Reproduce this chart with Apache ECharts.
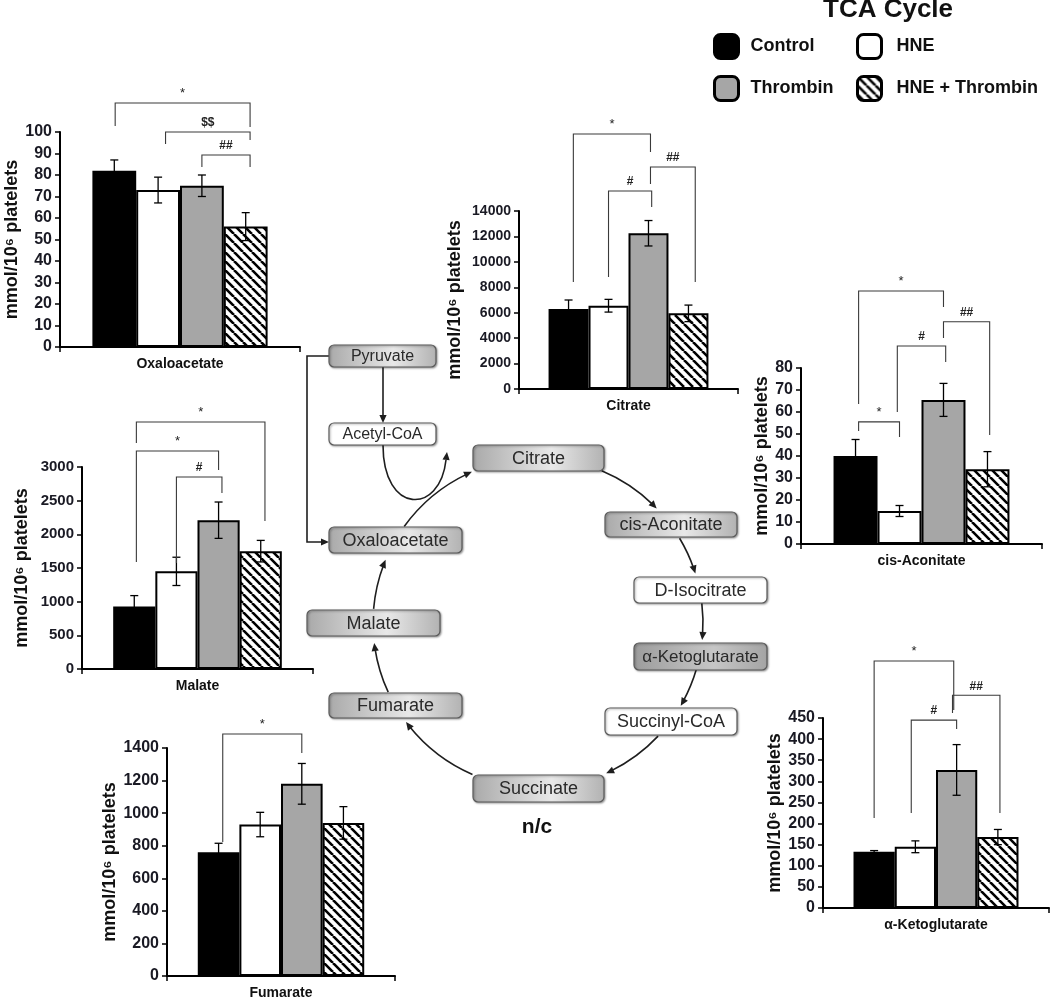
<!DOCTYPE html>
<html><head><meta charset="utf-8">
<script src="https://cdn.jsdelivr.net/npm/echarts@6/dist/echarts.min.js"></script>
<style>html,body{margin:0;padding:0;background:#fff}#c{width:1050px;height:1000px}</style>
</head><body><div id="c"></div><script>
// ---------------- DATA ----------------
const groups = ['Control', 'HNE', 'Thrombin', 'HNE + Thrombin'];
const yAxisTitle = 'mmol/10\u2076 platelets';

const oxaMean = [82, 73, 75, 56];
const oxaErr  = [5, 6, 5, 6.5];
const oxaAxis = [100, 10];
// [label, leftBar, rightBar, top, leftLegEnd, rightLegEnd]
const oxaSig = [['*', 0.02, 3.1, 113.5, 102.8, 102.3], ['$$', 1.17, 3.1, 100, 94.4, 96.3], ['##', 2, 3.1, 89.3, 83.7, 83.7]];

const citMean = [6300, 6550, 12250, 5950];
const citErr  = [700, 500, 1000, 650];
const citAxis = [14000, 2000];
const citSig = [['*', 0.12, 2.05, 20056, 8415, 18640], ['#', 1, 2.08, 15573, 8809, 14314], ['##', 2.05, 3.17, 17460, 16124, 8415]];

const cisMean = [40, 15, 65.5, 34];
const cisErr  = [7.5, 2.5, 7.5, 8];
const cisAxis = [80, 10];
const cisSig = [['*', 0.07, 2, 115, 63.6, 107.7], ['#', 0.95, 2.05, 90, 60, 82.7], ['##', 2, 3.05, 101, 93.6, 49.5], ['*', 0.07, 1, 55.5, 51.4, 48.6]];

const malMean = [930, 1450, 2210, 1750];
const malErr  = [160, 210, 270, 160];
const malAxis = [3000, 500];
const malSig = [['*', 0.05, 3.1, 3668, 3356, 2198], ['*', 0.05, 2, 3237, 1589, 2955], ['#', 1, 2.08, 2851, 1574, 2614]];

const fumMean = [760, 930, 1180, 940];
const fumErr  = [55, 75, 125, 100];
const fumAxis = [1400, 200];
const fumSig = [['*', 0.1, 2, 1486, 823, 1369]];

const akgMean = [133, 145, 327, 168];
const akgErr  = [3, 14, 60, 18];
const akgAxis = [450, 50];
const akgSig = [['*', 0, 1.93, 585, 213, 469], ['#', 0.9, 2, 445, 225, 424], ['##', 1.9, 3.05, 504, 462, 225]];

const panelNames = ['Oxaloacetate', 'Citrate', 'cis-Aconitate', 'Malate', 'Fumarate', '\u03b1-Ketoglutarate'];

// ---------------- LAYOUT ----------------
const panels = [
  {name: panelNames[0], mean: oxaMean, err: oxaErr, axis: oxaAxis, sig: oxaSig},
  {name: panelNames[1], mean: citMean, err: citErr, axis: citAxis, sig: citSig},
  {name: panelNames[2], mean: cisMean, err: cisErr, axis: cisAxis, sig: cisSig},
  {name: panelNames[3], mean: malMean, err: malErr, axis: malAxis, sig: malSig},
  {name: panelNames[4], mean: fumMean, err: fumErr, axis: fumAxis, sig: fumSig},
  {name: panelNames[5], mean: akgMean, err: akgErr, axis: akgAxis, sig: akgSig}
];
const layouts = [
  {left: 60,  top: 132, width: 240, height: 215, nameGap: 37, lab: 16},
  {left: 519, top: 211, width: 219, height: 178, nameGap: 55, lab: 14},
  {left: 801, top: 368, width: 241, height: 176, nameGap: 30, lab: 16},
  {left: 82,  top: 467, width: 231, height: 202, nameGap: 51, lab: 15},
  {left: 167, top: 748, width: 228, height: 228, nameGap: 46, lab: 16},
  {left: 823, top: 718, width: 226, height: 190, nameGap: 36, lab: 16}
];
const GAP = 0.27;
const FONT = 'Arial, "Liberation Sans", Helvetica, sans-serif';

function stripes() {
  const s = 9, c = document.createElement('canvas');
  c.width = s; c.height = s;
  const g = c.getContext('2d');
  g.fillStyle = '#fff'; g.fillRect(0, 0, s, s);
  g.strokeStyle = '#000'; g.lineWidth = 2.6; g.beginPath();
  for (const o of [-s, 0, s]) { g.moveTo(o, 0); g.lineTo(o + s, s); }
  g.stroke();
  return c;
}
const fills = ['#000000', '#ffffff', '#a6a6a6', {image: stripes(), repeat: 'repeat'}];

const grid = [], xAxis = [], yAxis = [], series = [];
panels.forEach((p, i) => {
  const l = layouts[i];
  grid.push({left: l.left, top: l.top, width: l.width, height: l.height});
  xAxis.push({
    type: 'category', gridIndex: i, data: [p.name],
    axisLine: {lineStyle: {color: '#000', width: 2}},
    axisTick: {show: true, length: 5, lineStyle: {color: '#000', width: 1.5}},
    axisLabel: {fontFamily: FONT, fontWeight: 'bold', fontSize: 14, color: '#111', margin: 10}
  });
  yAxis.push({
    type: 'value', gridIndex: i, min: 0, max: p.axis[0], interval: p.axis[1],
    axisLine: {show: true, lineStyle: {color: '#000', width: 2}},
    axisTick: {show: true, length: 5, lineStyle: {color: '#000', width: 1.5}},
    splitLine: {show: false},
    axisLabel: {fontFamily: FONT, fontWeight: 'bold', fontSize: l.lab, color: '#1a1a24', margin: 8,
      formatter: v => String(v)},
    name: yAxisTitle, nameLocation: 'middle', nameRotate: 90, nameGap: l.nameGap,
    nameTextStyle: {fontFamily: FONT, fontWeight: 'bold', fontSize: 18, color: '#111'}
  });
  groups.forEach((g, k) => {
    series.push({
      type: 'bar', name: g, xAxisIndex: i, yAxisIndex: i, data: [p.mean[k]],
      barGap: '0%', barCategoryGap: (GAP * 100) + '%', silent: true,
      itemStyle: {color: fills[k], borderColor: '#000', borderWidth: 2}
    });
  });
  // error bars
  series.push({
    type: 'custom', xAxisIndex: i, yAxisIndex: i, z: 4, silent: true,
    data: p.mean.map((m, k) => [0, m, p.err[k], k]),
    encode: {x: 0, y: 1},
    renderItem: function (params, api) {
      const k = api.value(3), m = api.value(1), e = api.value(2);
      const c = api.coord([0, m]);
      const bw = api.size([1, 0])[0] * (1 - GAP) / 4;
      const x = c[0] + (k - 1.5) * bw;
      const yt = api.coord([0, m + e])[1], yb = api.coord([0, m - e])[1];
      const st = {stroke: '#000', lineWidth: 1.3};
      return {type: 'group', children: [
        {type: 'line', shape: {x1: x, y1: yt, x2: x, y2: yb}, style: st},
        {type: 'line', shape: {x1: x - 4, y1: yt, x2: x + 4, y2: yt}, style: st},
        {type: 'line', shape: {x1: x - 4, y1: yb, x2: x + 4, y2: yb}, style: st}
      ]};
    }
  });
  // significance brackets
  const sig = p.sig;
  series.push({
    type: 'custom', xAxisIndex: i, yAxisIndex: i, z: 4, silent: true, clip: false,
    data: sig.map(s => [0, s[3]]),
    encode: {x: 0, y: 1},
    renderItem: function (params, api) {
      const s = sig[params.dataIndex];
      const c = api.coord([0, s[3]]);
      const bw = api.size([1, 0])[0] * (1 - GAP) / 4;
      const xl = c[0] + (s[1] - 1.5) * bw, xr = c[0] + (s[2] - 1.5) * bw;
      const yt = c[1];
      const yl = api.coord([0, s[4]])[1], yr = api.coord([0, s[5]])[1];
      const star = s[0] === '*';
      return {type: 'group', children: [
        {type: 'polyline', shape: {points: [[xl, yl], [xl, yt], [xr, yt], [xr, yr]]},
          style: {stroke: '#3a3a3a', lineWidth: 1.1, fill: null}},
        {type: 'text', style: {text: s[0], x: (xl + xr) / 2, y: yt - 3,
          align: 'center', verticalAlign: 'bottom',
          font: (star ? 'normal 13px ' : 'bold 12px ') + FONT, fill: '#222'}}
      ]};
    }
  });
});

// ---------------- PATHWAY DIAGRAM ----------------
const diagramBoxes = [
  ['Pyruvate', 329, 345, 436, 367, 'g', 16],
  ['Acetyl-CoA', 329, 423, 436, 445, 'w', 16],
  ['Citrate', 473, 445, 604, 471, 'g', 18],
  ['cis-Aconitate', 605, 512, 737, 537, 'g', 18],
  ['D-Isocitrate', 634, 577, 767, 603, 'w', 18],
  ['\u03b1-Ketoglutarate', 634, 643, 767, 670, 'd', 17],
  ['Succinyl-CoA', 605, 708, 737, 735, 'w', 18],
  ['Succinate', 473, 775, 604, 802, 'g', 18],
  ['Fumarate', 329, 693, 462, 718, 'g', 18],
  ['Malate', 307, 610, 440, 636, 'g', 18],
  ['Oxaloacetate', 329, 527, 462, 553, 'g', 18]
];
const gGray = {type: 'linear', x: 0, y: 0, x2: 1, y2: 0, colorStops: [
  {offset: 0, color: '#a9a9a9'}, {offset: 0.6, color: '#e8e8e8'}, {offset: 1, color: '#b2b2b2'}]};
const gDark = {type: 'linear', x: 0, y: 0, x2: 1, y2: 0, colorStops: [
  {offset: 0, color: '#9c9c9c'}, {offset: 0.6, color: '#c6c6c6'}, {offset: 1, color: '#a4a4a4'}]};

const graphic = [];
const LINE = '#1e1e1e';
function arrowHead(tx, ty, dx, dy) {
  const n = Math.hypot(dx, dy); dx /= n; dy /= n;
  const L = 8, W = 3.6;
  const bx = tx - dx * L, by = ty - dy * L;
  graphic.push({type: 'polygon', z: 5, shape: {points: [[tx, ty], [bx - dy * W, by + dx * W], [bx + dy * W, by - dx * W]]},
    style: {fill: LINE}});
}
const CX = 538, CY = 623, R = 165;
const cycleArcs = [[-144.2, -113.6], [-67.3, -44.0], [-30.9, -17.5], [-6.9, 5.9], [16.4, 30.1],
  [43.3, 65.6], [113.4, 143.1], [155.2, 173.0], [184.9, 202.5]];
cycleArcs.forEach(a => {
  const s = a[0] * Math.PI / 180, e = a[1] * Math.PI / 180;
  graphic.push({type: 'arc', z: 5, shape: {cx: CX, cy: CY, r: R, startAngle: s, endAngle: e - 0.03, clockwise: true},
    style: {stroke: LINE, lineWidth: 1.6, fill: null}});
  arrowHead(CX + R * Math.cos(e), CY + R * Math.sin(e), -Math.sin(e), Math.cos(e));
});
// Pyruvate -> Acetyl-CoA
graphic.push({type: 'line', z: 5, shape: {x1: 383, y1: 367, x2: 383, y2: 417}, style: {stroke: LINE, lineWidth: 1.6}});
arrowHead(383, 423, 0, 1);
// Pyruvate -> Oxaloacetate
graphic.push({type: 'polyline', z: 5, shape: {points: [[329, 356], [307, 356], [307, 542], [323, 542]]},
  style: {stroke: LINE, lineWidth: 1.6, fill: null}});
arrowHead(329, 542, 1, 0);
// Acetyl-CoA joining curve
graphic.push({type: 'bezierCurve', z: 5, shape: {x1: 383, y1: 445, cpx1: 383, cpy1: 515, cpx2: 440, cpy2: 515, x2: 446, y2: 460},
  style: {stroke: LINE, lineWidth: 1.6, fill: null}});
arrowHead(447, 452, 0.116, -0.993);

diagramBoxes.forEach(b => {
  const [t, x1, y1, x2, y2, kind, fs] = b;
  graphic.push({type: 'rect', z: 6, shape: {x: x1, y: y1, width: x2 - x1, height: y2 - y1, r: 5},
    style: {fill: kind === 'w' ? '#fff' : (kind === 'd' ? gDark : gGray), stroke: '#5a5a5a', lineWidth: 1.2,
      shadowBlur: 2, shadowColor: 'rgba(0,0,0,0.35)', shadowOffsetX: 1, shadowOffsetY: 1}});
  graphic.push({type: 'text', z: 7, style: {text: t, x: (x1 + x2) / 2, y: (y1 + y2) / 2 + 1, align: 'center', verticalAlign: 'middle',
    font: 'normal ' + fs + 'px ' + FONT, fill: '#2a2a2a'}});
});
graphic.push({type: 'text', z: 7, style: {text: 'n/c', x: 537, y: 827, align: 'center', verticalAlign: 'middle',
  font: 'bold 21px ' + FONT, fill: '#111'}});

const legendCommon = {
  orient: 'vertical', top: 33, padding: 0, itemWidth: 24, itemHeight: 24, itemGap: 15,
  icon: 'roundRect', selectedMode: false,
  itemStyle: {borderWidth: 3, borderColor: '#000'},
  textStyle: {fontFamily: FONT, fontWeight: 'bold', fontSize: 18, color: '#111'}
};

const option = {
  animation: false,
  backgroundColor: '#fff',
  title: {text: 'TCA Cycle', left: 823, top: -3, padding: 0,
    textStyle: {fontFamily: FONT, fontWeight: 'bold', fontSize: 26, color: '#111'}},
  legend: [
    Object.assign({}, legendCommon, {data: ['Control', 'Thrombin'], left: 713,
      textStyle: Object.assign({}, legendCommon.textStyle, {padding: [0, 0, 0, 7]})}),
    Object.assign({}, legendCommon, {data: ['HNE', 'HNE + Thrombin'], left: 856,
      textStyle: Object.assign({}, legendCommon.textStyle, {padding: [0, 0, 0, 10]})})
  ],
  grid, xAxis, yAxis, series, graphic
};
const chart = echarts.init(document.getElementById('c'));
chart.setOption(option);
</script></body></html>
